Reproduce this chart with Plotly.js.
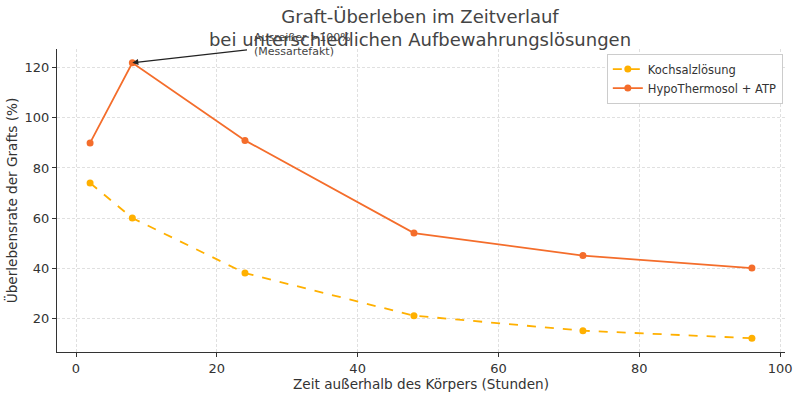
<!DOCTYPE html>
<html><head><meta charset="utf-8">
<script src="https://cdn.plot.ly/plotly-3.0.1.min.js"></script>
<style>body{margin:0;}#c{width:800px;height:396px;}</style>
</head><body><div id="c"></div>
<script>
const hours = [2, 8, 24, 48, 72, 96];
const kochsalz = [74, 60, 38, 21, 15, 12];
const hypo = [90, 122, 91, 54, 45, 40];
const seriesNames = ["Kochsalzlösung", "HypoThermosol + ATP"];

const traces = [
  {x: hours, y: kochsalz, name: seriesNames[0], mode: 'lines+markers',
   line: {color: '#ffb000', width: 1.8, dash: 'dash'}, marker: {color: '#ffb000', size: 7}},
  {x: hours, y: hypo, name: seriesNames[1], mode: 'lines+markers',
   line: {color: '#f46d2b', width: 1.8}, marker: {color: '#f46d2b', size: 7}}
];
const layout = {
  width: 800, height: 396,
  margin: {l: 57, r: 15, t: 49, b: 44},
  paper_bgcolor: '#fff', plot_bgcolor: '#fff',
  font: {family: 'DejaVu Sans', color: '#333'},
  title: {text: 'Graft-Überleben im Zeitverlauf<br>bei unterschiedlichen Aufbewahrungslösungen',
          font: {size: 18, color: '#444'}, x: 0.525, xanchor: 'center', y: 0.942, yanchor: 'top'},
  xaxis: {range: [-2.7, 100.7], tickvals: [0, 20, 40, 60, 80, 100], showgrid: true,
          gridcolor: '#e0e0e0', griddash: '3px,2px', zeroline: false, showline: true, linecolor: '#333',
          linewidth: 1.2, ticks: 'outside', ticklen: 4, tickcolor: '#333', tickfont: {size: 13},
          title: {text: 'Zeit außerhalb des Körpers (Stunden)', font: {size: 13.6}, standoff: 3}},
  yaxis: {range: [6.5, 127.5], tickvals: [20, 40, 60, 80, 100, 120], showgrid: true,
          gridcolor: '#e0e0e0', griddash: '3px,2px', zeroline: false, showline: true, linecolor: '#333',
          linewidth: 1.2, ticks: 'outside', ticklen: 4, tickcolor: '#333', tickfont: {size: 13},
          title: {text: 'Überlebensrate der Grafts (%)', font: {size: 13.6}, standoff: 3}},
  legend: {x: 0.997, y: 0.985, xanchor: 'right', yanchor: 'top', bgcolor: '#fff',
           bordercolor: '#ccc', borderwidth: 1, font: {size: 11.5}},
  annotations: [
    {x: hours[1], y: hypo[1], xref: 'x', yref: 'y', ax: 24.5, ay: 127.2, axref: 'x', ayref: 'y',
     text: '', showarrow: true, arrowhead: 2, arrowsize: 1, arrowwidth: 1.2, arrowcolor: '#222'},
    {x: 0.268, y: 1.015, xref: 'paper', yref: 'paper', xanchor: 'left', yanchor: 'middle', align: 'left',
     text: 'Ausreißer >100%<br>(Messartefakt)', showarrow: false, font: {size: 11, color: '#444'}}
  ]
};
Plotly.newPlot('c', traces, layout, {displayModeBar: false});
</script></body></html>
